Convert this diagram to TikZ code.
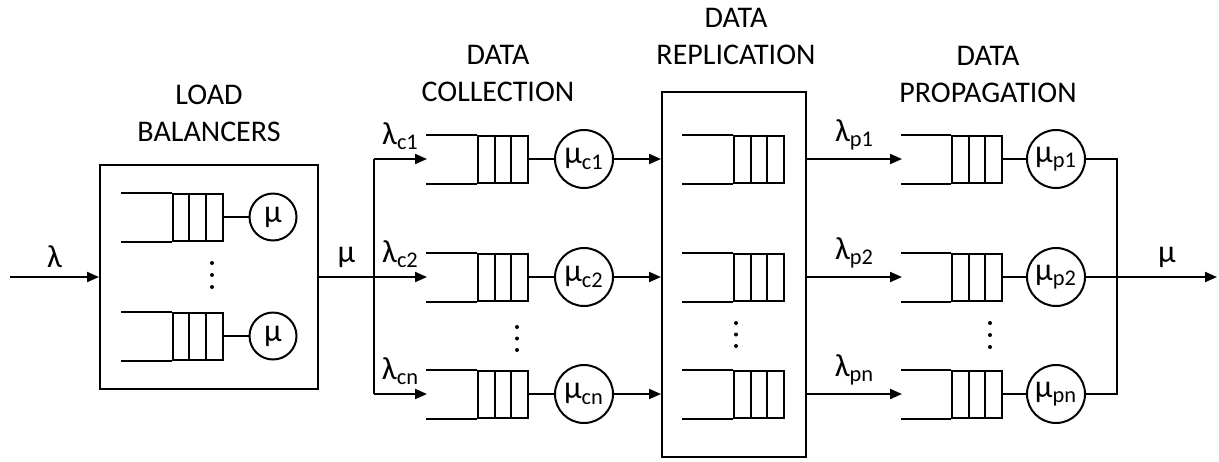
\documentclass[tikz,border=0pt]{standalone}
\usepackage{fontspec}
\setmainfont{Carlito}
\usetikzlibrary{arrows.meta}

\newcommand{\ttlfont}{\fontsize{15}{18.5}\selectfont}
\newcommand{\lblfont}{\fontsize{16}{18}\selectfont}

% queue buffer: name, left end, centre of cells, height
\newcommand{\queue}[4]{%
  \node[qcells] (#1) at (#3,#4) {};
  \foreach \dx in {-4.17pt,4.17pt}
    \draw ([xshift=\dx]#1.north) -- ([xshift=\dx]#1.south);
  \draw (#1.north west) -- ++(#2-#3+25,0);
  \draw (#1.south west) -- ++(#2-#3+25,0);
  \coordinate (#1-in) at (#2,#4);
}

\tikzset{
  qcells/.style={draw, minimum width=25pt, minimum height=23.5pt, inner sep=0pt},
  srv/.style={draw, circle, minimum size=29pt, inner sep=0pt, font=\lblfont},
  srvsmall/.style={srv, minimum size=23.5pt},
  box/.style={draw, inner sep=0pt},
  title/.style={align=center, font=\ttlfont},
  lbl/.style={font=\lblfont, inner sep=4pt},
}

\begin{document}
\begin{tikzpicture}[x=0.5pt, y=-0.5pt, line width=1pt,
  >={Triangle[length=6pt,width=5pt]}]
  \useasboundingbox (0,0) rectangle (1219,461);

  % Titles
  \node[title] (tlb) at (209,113.5) {LOAD\\BALANCERS};
  \node[title] (tcol) at (498,73.5) {DATA\\COLLECTION};
  \node[title] (trep) at (736,36.5) {DATA\\REPLICATION};
  \node[title] (tprop) at (988,74.5) {DATA\\PROPAGATION};

  % Load balancers
  \node[box, minimum width=109pt, minimum height=112pt] (lb) at (209,277) {};
  \queue{lbq1}{122}{197.5}{217}
  \queue{lbq2}{122}{197.5}{336}
  \node[srvsmall] (lbs1) at (273,217) {μ};
  \node[srvsmall] (lbs2) at (273,336) {μ};
  \draw (lbq1) -- (lbs1);
  \draw (lbq2) -- (lbs2);
  \foreach \y in {263,275,287}
    \fill (212,\y) circle (1pt);

  \coordinate (in) at (10,277);
  \draw[->] (in) -- (lb) node[lbl, midway, above] {λ};
  \coordinate (split) at (374,277);
  \draw (lb) -- (split) node[lbl, midway, above] {μ};

  % Data replication box
  \node[box, minimum width=72pt, minimum height=182.5pt] (rep) at (734,274.5) {};

  % Data collection
  \queue{cq1}{427}{503}{159}
  \queue{cq2}{427}{503}{277}
  \queue{cq3}{427}{503}{394}
  \node[srv] (cs1) at (584,159) {μ\textsubscript{c1}};
  \node[srv] (cs2) at (584,277) {μ\textsubscript{c2}};
  \node[srv] (cs3) at (584,394) {μ\textsubscript{cn}};
  \draw (split |- cq1-in) -- (split |- cq3-in);
  \draw[->] (split |- cq1-in) -- (cq1-in) node[lbl, midway, above] {λ\textsubscript{c1}};
  \draw[->] (split) -- (cq2-in) node[lbl, midway, above] {λ\textsubscript{c2}};
  \draw[->] (split |- cq3-in) -- (cq3-in) node[lbl, midway, above] {λ\textsubscript{cn}};
  \foreach \i in {1,2,3} {
    \draw (cq\i) -- (cs\i);
    \draw[->] (cs\i) -- (cs\i -| rep.west);
  }
  \foreach \y in {327,338.5,350}
    \fill (517,\y) circle (1pt);

  % Replication queues
  \queue{rq1}{683}{759}{159}
  \queue{rq2}{683}{759}{277}
  \queue{rq3}{683}{759}{394}
  \foreach \y in {323,334.5,346}
    \fill (736,\y) circle (1pt);

  % Data propagation
  \queue{pq1}{902}{977}{159}
  \queue{pq2}{902}{977}{277}
  \queue{pq3}{902}{977}{394}
  \node[srv] (ps1) at (1056,159) {μ\textsubscript{p1}};
  \node[srv] (ps2) at (1056,277) {μ\textsubscript{p2}};
  \node[srv] (ps3) at (1056,394) {μ\textsubscript{pn}};
  \draw[->] (rep.east |- rq1) -- (pq1-in) node[lbl, midway, above] {λ\textsubscript{p1}};
  \draw[->] (rep.east |- rq2) -- (pq2-in) node[lbl, midway, above] {λ\textsubscript{p2}};
  \draw[->] (rep.east |- rq3) -- (pq3-in) node[lbl, midway, above] {λ\textsubscript{pn}};
  \foreach \i in {1,2,3}
    \draw (pq\i) -- (ps\i);
  \foreach \y in {323,335,347}
    \fill (990,\y) circle (1pt);

  % Merge and output
  \coordinate (join) at (1117,277);
  \coordinate (out) at (1217,277);
  \draw (ps1) -| (join);
  \draw (ps3) -| (join);
  \draw (ps2) -- (join);
  \draw[->] (join) -- (out) node[lbl, midway, above] {μ};
\end{tikzpicture}
\end{document}
